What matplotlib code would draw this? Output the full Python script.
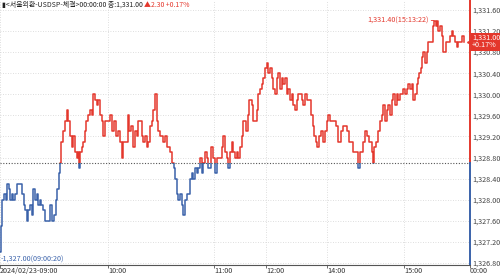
import numpy as np
import matplotlib
matplotlib.use('Agg')
import matplotlib.pyplot as plt
from matplotlib.patches import Rectangle
from matplotlib.transforms import blended_transform_factory

# USD/KRW spot trades, 2024/02/23
trade_no = [
    0, 1, 2, 4, 6, 7, 9, 10, 12, 13, 15, 17, 22, 24, 25, 27, 28, 30, 32, 33,
    35, 37, 38, 40, 41, 43, 45, 50, 52, 54, 56, 57, 59, 60, 61, 63, 65, 67, 68, 70,
    72, 73, 75, 77, 78, 79, 80, 82, 83, 85, 86, 88, 90, 92, 93, 95, 97, 98, 100, 102,
    103, 105, 110, 112, 114, 116, 118, 120, 122, 123, 128, 129, 131, 133, 135, 137, 138, 142, 143, 145,
    147, 148, 150, 152, 153, 155, 157, 158, 160, 163, 165, 167, 170, 172, 174, 175, 177, 178, 180, 182,
    183, 185, 187, 190, 192, 193, 195, 197, 198, 200, 202, 203, 205, 207, 208, 211, 213, 215, 217, 222,
    223, 225, 227, 228, 230, 232, 233, 235, 237, 238, 240, 242, 243, 246, 248, 249, 252, 253, 257, 258,
    260, 262, 263, 265, 267, 268, 270, 272, 273, 275, 277, 278, 280, 282, 283, 285, 287, 288, 290, 292,
    293, 295, 297, 298, 302, 303, 305, 307, 311, 313, 314, 316, 317, 319, 321, 323, 325, 327, 328, 330,
    336, 338, 341, 343, 347, 349, 353, 358, 360, 363, 365, 367, 369, 372, 373, 374, 376, 378, 380, 382,
    383, 385, 387, 388, 390, 392, 393, 395, 397, 398, 400, 403, 405, 407, 408, 410, 412, 413, 415, 417,
    418, 419, 421, 422, 423, 425, 427, 428, 433, 434, 436, 437, 438, 440, 442, 443, 446, 450, 452, 453,
    455, 457, 458, 462, 464,
]
price = [
    1327.0, 1327.5, 1328.0, 1328.1, 1328.0, 1328.3, 1328.2, 1328.0, 1328.1, 1328.0,
    1328.1, 1328.3, 1328.1, 1327.9, 1327.8, 1327.6, 1327.8, 1327.9, 1327.7, 1328.2,
    1328.0, 1328.1, 1327.9, 1328.0, 1327.9, 1327.8, 1327.6, 1327.9, 1327.6, 1327.7,
    1328.0, 1328.2, 1328.5, 1328.7, 1329.1, 1329.3, 1329.5, 1329.7, 1329.5, 1329.2,
    1329.0, 1329.2, 1328.9, 1328.8, 1328.9, 1328.6, 1328.9, 1329.0, 1329.1, 1329.3,
    1329.5, 1329.6, 1329.7, 1329.6, 1330.0, 1329.9, 1329.8, 1329.9, 1329.6, 1329.5,
    1329.2, 1329.5, 1329.6, 1329.3, 1329.5, 1329.2, 1329.3, 1329.1, 1328.8, 1329.1,
    1329.6, 1329.3, 1329.4, 1329.0, 1329.3, 1329.2, 1329.5, 1329.2, 1329.1, 1329.2,
    1329.0, 1329.1, 1329.4, 1329.5, 1329.7, 1330.0, 1329.5, 1329.3, 1329.2, 1329.1,
    1329.2, 1329.0, 1328.9, 1328.7, 1328.6, 1328.4, 1328.1, 1328.0, 1328.1, 1327.9,
    1327.7, 1328.0, 1328.1, 1328.4, 1328.5, 1328.4, 1328.6, 1328.5, 1328.6, 1328.8,
    1328.5, 1328.7, 1328.9, 1328.8, 1328.6, 1329.0, 1328.8, 1328.5, 1328.8, 1329.0,
    1329.2, 1328.9, 1328.8, 1328.6, 1328.9, 1329.1, 1328.9, 1328.8, 1328.9, 1328.8,
    1329.0, 1329.2, 1329.5, 1329.3, 1329.6, 1329.9, 1329.8, 1329.5, 1329.7, 1330.0,
    1330.1, 1330.2, 1330.3, 1330.5, 1330.6, 1330.4, 1330.5, 1330.3, 1330.1, 1330.0,
    1330.3, 1330.4, 1330.1, 1330.3, 1330.2, 1330.3, 1330.0, 1330.1, 1329.9, 1330.0,
    1329.8, 1329.7, 1329.9, 1330.0, 1329.9, 1329.8, 1330.0, 1329.9, 1329.6, 1329.4,
    1329.2, 1329.1, 1329.0, 1329.2, 1329.3, 1329.1, 1329.3, 1329.5, 1329.6, 1329.5,
    1329.4, 1329.1, 1329.3, 1329.4, 1329.3, 1329.1, 1328.9, 1328.6, 1328.9, 1329.1,
    1329.3, 1329.2, 1329.1, 1328.9, 1328.7, 1329.0, 1329.1, 1329.3, 1329.5, 1329.6,
    1329.8, 1329.5, 1329.7, 1329.8, 1329.6, 1329.9, 1330.0, 1329.8, 1330.0, 1329.9,
    1330.0, 1330.1, 1330.0, 1330.1, 1330.2, 1330.1, 1330.2, 1329.9, 1330.0, 1330.2,
    1330.3, 1330.4, 1330.5, 1330.7, 1330.8, 1330.6, 1330.8, 1331.0, 1331.3, 1331.4,
    1331.3, 1331.4, 1331.2, 1331.3, 1331.1, 1330.8, 1331.0, 1331.1, 1331.2, 1331.1,
    1331.0, 1330.9, 1331.0, 1331.1, 1331.0,
]

prev_close = 1328.70
last_price = 1331.00
change = 2.30
change_pct = 0.17
hi_time = '15:13:22'
lo_time = '09:00:20'

time_ticks = [0, 108, 214, 266, 327, 404, 470]
time_labels = ['2024/02/23-09:00', '10:00', '11:00', '12:00', '14:00', '15:00', '00:00']
price_ticks = [1326.8, 1327.2, 1327.6, 1328.0, 1328.4, 1328.8, 1329.2,
               1329.6, 1330.0, 1330.4, 1330.8, 1331.2, 1331.6]

RED = '#e4372c'
BLUE = '#3a62aa'
FS = 5.2
plt.rcParams['font.family'] = ['Liberation Sans Narrow', 'Noto Sans CJK KR', 'DejaVu Sans']

fig = plt.figure(figsize=(5, 2.76), dpi=100)
ax = fig.add_axes([0, 0.04, 0.94, 0.96])
ax.set_xlim(0, 470)
ax.set_ylim(1326.76, 1331.79)

trans = blended_transform_factory(ax.transAxes, ax.transData)

# price line: red above the previous close, blue below
up, = ax.step(trade_no, price, where='post', color=RED, lw=1.1)
up.set_clip_path(Rectangle((0, prev_close), 1, 10, transform=trans))
dn, = ax.step(trade_no, price, where='post', color=BLUE, lw=1.1)
dn.set_clip_path(Rectangle((0, prev_close - 10), 1, 10, transform=trans))

ax.axhline(prev_close, color='#555555', lw=0.8, ls=(0, (1, 1.5)))

# grid and axes
ax.set_xticks(time_ticks)
ax.set_xticklabels(time_labels, ha='left')
ax.set_yticks(price_ticks)
ax.yaxis.set_major_formatter(plt.FuncFormatter(lambda v, p: f'{v:,.2f}'))
ax.yaxis.tick_right()
ax.grid(True, color='#d4d4d4', lw=0.6, ls=(0, (1, 2)))
ax.tick_params(axis='x', length=2.5, width=0.6, color='#555555', pad=-1.2,
               labelsize=FS, labelcolor='#333333')
ax.tick_params(axis='y', length=0, pad=1.5, labelsize=FS, labelcolor='#444444')
for s in ['left', 'top', 'right']:
    ax.spines[s].set_visible(False)
ax.spines['bottom'].set_color('#555555')
ax.spines['bottom'].set_linewidth(0.8)

# coloured right axis
ylo, yhi = ax.get_ylim()
ax.plot([1, 1], [prev_close, yhi], transform=trans, color=RED, lw=1.4, clip_on=False)
ax.plot([1, 1], [ylo, prev_close], transform=trans, color=BLUE, lw=1.4, clip_on=False)

# high / low labels
i_hi = int(np.argmax(price))
i_lo = int(np.argmin(price))
ax.annotate(f'{price[i_hi]:,.2f}({hi_time})', xy=(trade_no[i_hi], price[i_hi]),
            xytext=(-4, 0), textcoords='offset points', ha='right', va='center',
            color=RED, fontsize=FS,
            arrowprops=dict(arrowstyle='-', color=RED, lw=0.6, shrinkA=0, shrinkB=0))
ax.annotate(f'-{price[i_lo]:,.2f}({lo_time})', xy=(trade_no[i_lo], price[i_lo]),
            xytext=(0.5, -5), textcoords='offset points', ha='left', va='center',
            color=BLUE, fontsize=FS)

# last price tag
ax.plot([1], [last_price], transform=trans, marker='<', ms=4, color=RED,
        clip_on=False)
ax.text(1.004, last_price, f'{last_price:,.2f}\n+{change_pct:.2f}%',
        transform=trans, ha='left', va='center', color='white', fontsize=FS,
        linespacing=0.95, clip_on=False, zorder=5,
        bbox=dict(boxstyle='square,pad=0.15', fc=RED, ec='none'))

# header
t1 = fig.text(0.004, 0.982, f'▮<서울외환-USDSP-체결>00:00:00 종:{last_price:,.2f} ',
              ha='left', va='center', fontsize=5.0, color='#222222')
ax.annotate(f'▲{change:.2f} +{change_pct:.2f}%', xy=(1, 0.5), xycoords=t1,
            ha='left', va='center', fontsize=5.0, color=RED)

fig.savefig('out.png', dpi=100)
